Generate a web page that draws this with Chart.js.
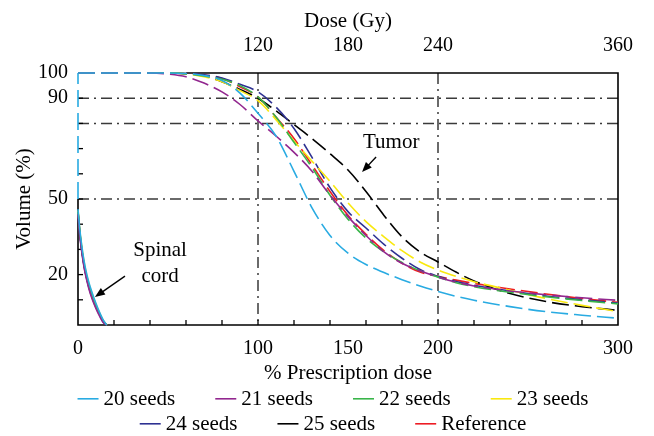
<!DOCTYPE html>
<html>
<head>
<meta charset="utf-8">
<script src="https://cdn.jsdelivr.net/npm/chart.js@4.4.1/dist/chart.umd.min.js"></script>
<style>
  html, body { margin: 0; padding: 0; background: #fff; }
  #wrap { width: 654px; height: 436px; }
</style>
</head>
<body>
<div id="wrap"><canvas id="dvh"></canvas></div>
<script>
// tumor DVHs, x = % prescription dose, y = volume (%)
const tumorDose = [0, 10, 20, 30, 40, 50, 60, 70, 80, 90, 100, 110, 120, 130, 140, 150, 160, 170, 180, 190, 200, 210, 220, 240, 260, 280, 300]
const tumor20 = [100, 100, 100, 100, 100, 100, 99.8, 99, 97, 92, 84, 75, 61, 46.5, 35.5, 28.5, 24, 20.8, 18, 15.5, 13.3, 11.4, 9.8, 7.3, 5.3, 3.9, 2.7]
const tumor21 = [100, 100, 100, 100, 100, 99.6, 98.5, 96, 92.5, 87.5, 81, 75, 68.5, 61, 51.5, 43, 35.5, 29, 24.5, 21.5, 19, 17, 15.5, 13.5, 12, 10.8, 9.8]
const tumor22 = [100, 100, 100, 100, 100, 100, 99.7, 98.8, 97.5, 95, 90.5, 82.5, 72.5, 62.5, 51.5, 42, 34.5, 29, 24.8, 21.5, 19, 16.8, 15.2, 13, 11.2, 9.7, 8.4]
const tumor23 = [100, 100, 100, 100, 100, 100, 99.7, 98.5, 96.5, 93, 89, 81.5, 73, 65, 57, 48.5, 41, 35, 29.5, 25, 21.8, 19.3, 17.2, 13.8, 10.5, 7.8, 5.3]
const tumor24 = [100, 100, 100, 100, 100, 100, 99.8, 99.3, 98, 95.5, 92.5, 86.5, 78, 66.5, 54.5, 45, 38.5, 32, 26.5, 22, 19.3, 17.3, 15.8, 13.5, 11.5, 10, 8.7]
const tumor25 = [100, 100, 100, 100, 100, 100, 99.7, 99, 96.5, 93.5, 90, 85, 79.5, 74, 68, 61.5, 53, 43.5, 35, 29, 25, 21, 17.5, 12.5, 9.3, 7.3, 5.8]
const tumorRef = [100, 100, 100, 100, 100, 100, 99.8, 99.2, 97.8, 94.5, 90.5, 82.5, 74, 63.5, 53, 43.5, 36, 29.5, 24.5, 21, 19.3, 17.8, 16.5, 14.3, 12.3, 10.5, 9]

// 20 seeds dashed piece running up the left edge
const edgeDose = [0, 0]
const edge20 = [50, 100]

// spinal cord DVHs
const spinalDose = [0, 1, 2, 3, 4, 6, 8, 10, 12, 14, 16]
const spinal20 = [46, 38, 32, 27, 23, 17, 12.5, 8.5, 5, 2, 0]
const spinal21 = [44, 35.5, 29.5, 24.5, 20.5, 14.5, 10, 6.5, 3.5, 1, 0]
const spinal22 = [45, 37, 30.5, 25.5, 21.5, 15.5, 11, 7.3, 4.2, 1.5, 0]
const spinal23 = [45.5, 37.5, 31.5, 26.5, 22.5, 16.5, 12, 8, 4.7, 1.8, 0]
const spinal24 = [44.5, 36, 30, 25, 21, 15, 10.5, 7, 4, 1.2, 0]
const spinal25 = [45, 36.5, 30.5, 25.5, 21.5, 15.5, 11, 7.3, 4.2, 1.5, 0]
const spinalRef = [45, 37, 30.5, 25.5, 21.5, 15.8, 11.2, 7.5, 4.3, 1.6, 0]

const seriesNames = ['20 seeds', '21 seeds', '22 seeds', '23 seeds', '24 seeds', '25 seeds', 'Reference']
const seriesColors = ['#29abe2', '#92278f', '#39b54a', '#f9e80f', '#2e3192', '#000000', '#ed1c24']
const tumorSeries = [tumor20, tumor21, tumor22, tumor23, tumor24, tumor25, tumorRef]
const spinalSeries = [spinal20, spinal21, spinal22, spinal23, spinal24, spinal25, spinalRef]

const pctTicks = [0, 100, 150, 200, 300]
const gyTicks = [120, 180, 240, 360]
const volTicks = [20, 50, 90, 100]
const pctGrid = [100, 200]
const volGrid = [90, 80, 50]

// callouts: text anchors and arrows in data units
const notes = [
  { lines: ['Tumor'], x: 174, y: 72.6, from: [165.6, 66.7], to: [157.8, 60.7] },
  { lines: ['Spinal', 'cord'], x: 45.6, y: 29.4, from: [26.1, 19.4], to: [9.4, 11.1] }
]

const serif = '"Liberation Serif", "Times New Roman", serif'
const dash = [17, 6]
const toPoints = (xs, ys) => xs.map((x, i) => ({ x, y: ys[i] }))

const datasets = []
tumorSeries.forEach((ys, i) => datasets.push({
  label: seriesNames[i],
  data: toPoints(tumorDose, ys),
  borderColor: seriesColors[i],
  borderDash: dash,
  borderWidth: 1.6
}))
spinalSeries.forEach((ys, i) => datasets.push({
  label: seriesNames[i] + ' spinal cord',
  data: toPoints(spinalDose, ys),
  borderColor: seriesColors[i],
  borderWidth: 1.6
}))
datasets.push({
  label: '20 seeds edge',
  data: toPoints(edgeDose, edge20),
  borderColor: seriesColors[0],
  borderDash: dash,
  borderWidth: 1.6,
  cubicInterpolationMode: 'default'
})

function line (ctx, x1, y1, x2, y2) {
  ctx.beginPath()
  ctx.moveTo(x1, y1)
  ctx.lineTo(x2, y2)
  ctx.stroke()
}

const decorations = {
  id: 'decorations',
  beforeDatasetsDraw (chart) {
    const { ctx, chartArea: a, scales: { x, y } } = chart
    ctx.save()
    // dash-dot grid
    ctx.strokeStyle = '#3a3a3a'
    ctx.lineWidth = 1.5
    ctx.setLineDash([11, 5, 2, 5])
    pctGrid.forEach(v => { const px = x.getPixelForValue(v); line(ctx, px, a.top, px, a.bottom) })
    volGrid.forEach(v => { const py = y.getPixelForValue(v); line(ctx, a.left, py, a.right, py) })
    ctx.setLineDash([])
    // inward minor ticks
    ctx.strokeStyle = '#000'
    ctx.lineWidth = 1.3
    for (let v = 20; v < 300; v += 20) {
      const px = x.getPixelForValue(v)
      line(ctx, px, a.bottom, px, a.bottom - 5)
    }
    for (let v = 10; v < 100; v += 10) {
      const py = y.getPixelForValue(v)
      line(ctx, a.left, py, a.left + 5, py)
    }
    // box; where the 20 seeds curve lies on the edge only the dashes show
    const flatEnd = x.getPixelForValue(tumorDose[tumor20.findIndex(v => v < 100)])
    const edgeLow = y.getPixelForValue(edge20[0])
    ctx.lineWidth = 1.6
    ctx.beginPath()
    ctx.moveTo(flatEnd, a.top)
    ctx.lineTo(a.right, a.top)
    ctx.lineTo(a.right, a.bottom)
    ctx.lineTo(a.left, a.bottom)
    ctx.lineTo(a.left, edgeLow)
    ctx.stroke()
    ctx.restore()
  },
  afterDraw (chart) {
    const { ctx, scales: { x, y } } = chart
    ctx.save()
    ctx.fillStyle = '#000'
    ctx.strokeStyle = '#000'
    ctx.font = '21px ' + serif
    ctx.textAlign = 'center'
    ctx.textBaseline = 'middle'
    notes.forEach(n => {
      const cx = x.getPixelForValue(n.x)
      n.lines.forEach((t, k) => ctx.fillText(t, cx, y.getPixelForValue(n.y) + k * 26))
      const x1 = x.getPixelForValue(n.from[0]), y1 = y.getPixelForValue(n.from[1])
      const x2 = x.getPixelForValue(n.to[0]), y2 = y.getPixelForValue(n.to[1])
      const ang = Math.atan2(y2 - y1, x2 - x1)
      ctx.lineWidth = 1.4
      line(ctx, x1, y1, x2 - 6 * Math.cos(ang), y2 - 6 * Math.sin(ang))
      ctx.beginPath()
      ctx.moveTo(x2, y2)
      ctx.lineTo(x2 - 10 * Math.cos(ang) + 4 * Math.sin(ang), y2 - 10 * Math.sin(ang) - 4 * Math.cos(ang))
      ctx.lineTo(x2 - 10 * Math.cos(ang) - 4 * Math.sin(ang), y2 - 10 * Math.sin(ang) + 4 * Math.cos(ang))
      ctx.closePath()
      ctx.fill()
    })

    // legend: two centred rows, short solid line then label
    const rows = [[0, 1, 2, 3], [4, 5, 6]]
    const lineLen = 21, textGap = 5, itemGap = 40, centre = 333
    ctx.textAlign = 'left'
    rows.forEach((row, r) => {
      const widths = row.map(i => lineLen + textGap + ctx.measureText(seriesNames[i]).width)
      const total = widths.reduce((s, w) => s + w, 0) + itemGap * (row.length - 1)
      let px = centre - total / 2
      const py = x.bottom + 12.8 + r * 25
      row.forEach((i, k) => {
        ctx.strokeStyle = seriesColors[i]
        ctx.lineWidth = 1.6
        line(ctx, px, py - 0.5, px + lineLen, py - 0.5)
        ctx.fillStyle = '#000'
        ctx.fillText(seriesNames[i], px + lineLen + textGap, py)
        px += widths[k] + itemGap
      })
    })
    ctx.restore()
  }
}

const tickFont = { family: serif, size: 20 }
const titleFont = { family: serif, size: 21 }
// invisible tick marks used only as spacing between axis and labels
const spacer = len => ({ display: true, drawOnChartArea: false, drawTicks: true, tickLength: len, tickColor: 'transparent', color: 'transparent' })

new Chart(document.getElementById('dvh'), {
  type: 'line',
  data: { datasets },
  options: {
    responsive: true,
    maintainAspectRatio: false,
    animation: false,
    devicePixelRatio: 1,
    layout: { padding: { left: 10, right: 36, top: 8, bottom: 49.5 } },
    datasets: {
      line: { pointRadius: 0, cubicInterpolationMode: 'monotone', clip: 4, fill: false }
    },
    plugins: { legend: { display: false }, tooltip: { enabled: false } },
    scales: {
      x: {
        type: 'linear', position: 'bottom', min: 0, max: 300,
        afterBuildTicks: s => { s.ticks = pctTicks.map(v => ({ value: v })) },
        grid: spacer(11.5),
        border: { display: false },
        ticks: { font: tickFont, color: '#000', padding: 0, maxRotation: 0, autoSkip: false },
        title: { display: true, text: '% Prescription dose', font: titleFont, color: '#000', padding: 0.4 }
      },
      x2: {
        type: 'linear', position: 'top', min: 0, max: 360,
        afterBuildTicks: s => { s.ticks = gyTicks.map(v => ({ value: v })) },
        grid: spacer(15),
        border: { display: false },
        ticks: { font: tickFont, color: '#000', padding: 0, maxRotation: 0, autoSkip: false },
        title: { display: true, text: 'Dose (Gy)', font: titleFont, color: '#000', padding: 0.4 }
      },
      y: {
        type: 'linear', position: 'left', min: 0, max: 100,
        afterBuildTicks: s => { s.ticks = volTicks.map(v => ({ value: v })) },
        grid: spacer(10),
        border: { display: false },
        ticks: { font: tickFont, color: '#000', padding: 0, autoSkip: false },
        title: { display: true, text: 'Volume (%)', font: titleFont, color: '#000', padding: 1.4 }
      }
    }
  },
  plugins: [decorations]
})
</script>
</body>
</html>
